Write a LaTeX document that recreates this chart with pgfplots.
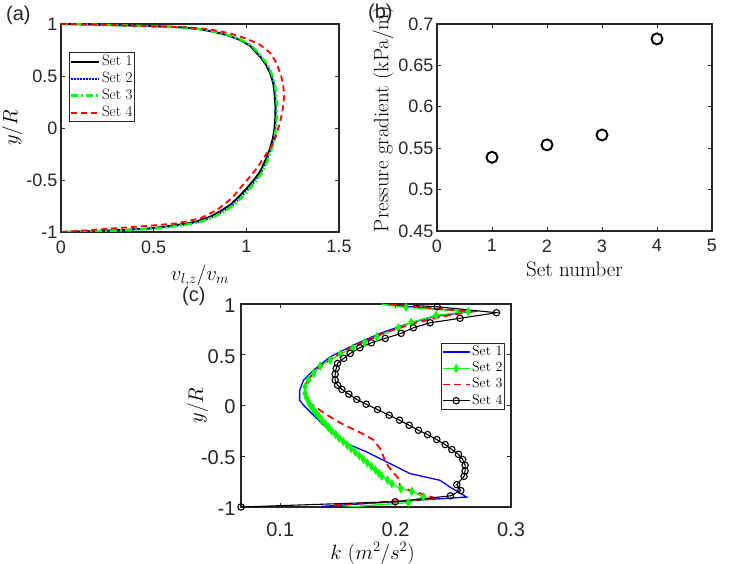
\documentclass[border=0pt]{standalone}
\usepackage{fontspec}
\usepackage{pgfplots}
\pgfplotsset{compat=1.18}
\newfontfamily\hel{Liberation Sans}
\definecolor{axgray}{rgb}{0.15,0.15,0.15}
\pgfplotsset{
  mstyle/.style={
    scale only axis,
    axis line style={axgray, line width=1.1pt},
    every tick/.style={axgray, line width=0.8pt},
    major tick length=4pt,
    tick align=inside,
    /pgf/number format/assume math mode=true,
    tick label style={font=\hel\fontsize{18}{18}\selectfont, text=axgray},
    xticklabel style={yshift=-5pt},
    label style={font=\fontsize{21}{21}\selectfont},
  }
}
\begin{document}
\begin{tikzpicture}
\useasboundingbox (0,0) rectangle (747pt,564pt);
% ---------------- (a)
\begin{axis}[mstyle,
  at={(61pt,332pt)}, anchor=south west,
  width=278pt, height=208pt,
  xmin=0, xmax=1.5, ymin=-1, ymax=1,
  xtick={0,0.5,1,1.5}, ytick={-1,-0.5,0,0.5,1},
  xlabel={$v_{l,z}/v_m$}, ylabel={$y/R$},
  xlabel style={at={(axis description cs:0.5,-0.21)}, anchor=center},
  ylabel style={at={(axis description cs:-0.176,0.5)}, anchor=center},
  legend style={at={(0.029,0.865)}, anchor=north west, draw=axgray, line width=1.1pt,
    font=\fontsize{15}{15}\selectfont, inner sep=0.5pt, row sep=0pt,
    nodes={inner sep=1.5pt, text height=10.5pt, text depth=3.5pt}},
  legend cell align=left,
  legend image code/.code={\draw[#1] (0pt,0pt) -- (28pt,0pt);},
]
\addplot[black, line width=1.8pt] coordinates {(0,1) (0.1,0.997) (0.25,0.991) (0.4,0.984) (0.55,0.976) (0.642,0.968) (0.74,0.952) (0.822,0.926) (0.9,0.89) (0.966,0.846) (1.02,0.79) (1.074,0.686) (1.105,0.61) (1.128,0.526) (1.145,0.43) (1.152,0.333) (1.157,0.2) (1.156,0.1) (1.152,0) (1.143,-0.1) (1.128,-0.195) (1.105,-0.3) (1.074,-0.42) (1.04,-0.5) (1.002,-0.58) (0.96,-0.66) (0.912,-0.74) (0.86,-0.8) (0.804,-0.853) (0.73,-0.9) (0.66,-0.923) (0.57,-0.946) (0.48,-0.965) (0.35,-0.978) (0.2,-0.99) (0.08,-0.997) (0,-1)};
\addlegendentry{Set 1}
\addplot[blue, line width=1.9pt, dash pattern=on 1.3pt off 1.7pt] coordinates {(0,1) (0.1,0.997) (0.25,0.991) (0.4,0.984) (0.55,0.976) (0.645,0.968) (0.745,0.952) (0.826,0.926) (0.905,0.89) (0.97,0.846) (1.025,0.79) (1.078,0.686) (1.11,0.61) (1.132,0.526) (1.149,0.43) (1.156,0.333) (1.161,0.2) (1.16,0.1) (1.157,0) (1.149,-0.1) (1.135,-0.195) (1.113,-0.3) (1.084,-0.42) (1.052,-0.5) (1.015,-0.58) (0.975,-0.66) (0.928,-0.74) (0.878,-0.8) (0.822,-0.853) (0.75,-0.9) (0.68,-0.925) (0.59,-0.948) (0.49,-0.967) (0.36,-0.98) (0.21,-0.991) (0.08,-0.998) (0,-1)};
\addlegendentry{Set 2}
\addplot[green, line width=2.4pt, dash pattern=on 7pt off 3pt on 2pt off 3pt] coordinates {(0,1) (0.1,0.997) (0.25,0.991) (0.4,0.984) (0.55,0.977) (0.648,0.968) (0.75,0.952) (0.83,0.926) (0.91,0.89) (0.975,0.846) (1.03,0.79) (1.082,0.686) (1.114,0.61) (1.136,0.526) (1.153,0.43) (1.16,0.333) (1.165,0.2) (1.164,0.1) (1.16,0) (1.152,-0.1) (1.138,-0.195) (1.117,-0.3) (1.088,-0.42) (1.056,-0.5) (1.02,-0.58) (0.98,-0.66) (0.934,-0.74) (0.884,-0.8) (0.828,-0.853) (0.756,-0.9) (0.686,-0.926) (0.595,-0.95) (0.495,-0.969) (0.36,-0.982) (0.21,-0.992) (0.08,-0.998) (0,-1)};
\addlegendentry{Set 3}
\addplot[red, line width=1.8pt, dash pattern=on 6pt off 4pt] coordinates {(0,1) (0.15,0.995) (0.35,0.986) (0.55,0.976) (0.678,0.968) (0.8,0.95) (0.912,0.91) (1.0,0.86) (1.074,0.8) (1.13,0.72) (1.164,0.62) (1.188,0.5) (1.2,0.4) (1.203,0.3) (1.198,0.2) (1.19,0.12) (1.181,0.05) (1.173,0) (1.16,-0.08) (1.135,-0.18) (1.092,-0.29) (1.06,-0.38) (1.02,-0.468) (0.975,-0.56) (0.93,-0.66) (0.885,-0.73) (0.84,-0.79) (0.75,-0.87) (0.624,-0.917) (0.48,-0.94) (0.3,-0.963) (0.15,-0.983) (0,-1)};
\addlegendentry{Set 4}
\end{axis}
% ---------------- (b)
\begin{axis}[mstyle,
  at={(437pt,333pt)}, anchor=south west,
  width=275pt, height=207pt,
  xmin=0, xmax=5, ymin=0.45, ymax=0.7,
  xtick={0,1,2,3,4,5}, ytick={0.45,0.5,0.55,0.6,0.65,0.7},
  xlabel={Set number}, ylabel={Pressure gradient (kPa/m)},
  xlabel style={at={(axis description cs:0.5,-0.185)}, anchor=center},
  ylabel style={at={(axis description cs:-0.196,0.54)}, anchor=center},
]
\addplot[only marks, mark=o, mark size=5.5pt, black, line width=1.9pt] coordinates {(1,0.539) (2,0.554) (3,0.566) (4,0.682)};
\end{axis}
% ---------------- (c)
\begin{axis}[mstyle,
  at={(241pt,57pt)}, anchor=south west,
  width=270pt, height=203pt,
  xmin=0.066, xmax=0.3, ymin=-1, ymax=1,
  xtick={0.1,0.2,0.3}, ytick={-1,-0.5,0,0.5,1},
  tick label style={font=\hel\fontsize{20}{20}\selectfont, text=axgray},
  xticklabel style={yshift=-7pt},
  yticklabel style={xshift=-2pt, yshift=-1.5pt},
  xlabel={$k\ (m^2/s^2)$}, ylabel={$y/R$},
  xlabel style={at={(axis description cs:0.487,-0.228)}, anchor=center},
  ylabel style={at={(axis description cs:-0.16,0.5)}, anchor=center},
  legend style={at={(0.978,0.808)}, anchor=north east, draw=axgray, line width=1.1pt,
    font=\fontsize{14}{14}\selectfont, inner sep=0.5pt, row sep=0pt,
    nodes={inner sep=1.5pt, text height=10pt, text depth=3.2pt}},
  legend cell align=left,
  legend image code/.code={\draw[#1] (0pt,0pt) -- (13.5pt,0pt) -- (27pt,0pt); \draw[#1, mark repeat=1] plot coordinates {(13.5pt,0pt)};},
]
\addplot[blue, line width=1.3pt] coordinates {(0.19,0.996) (0.264,0.924) (0.2327,0.875) (0.2097,0.803) (0.1866,0.711) (0.1635,0.595) (0.1433,0.48) (0.1289,0.348) (0.1202,0.25) (0.1168,0.151) (0.1168,0.052) (0.1202,0.003) (0.1274,-0.079) (0.1361,-0.178) (0.1462,-0.276) (0.1577,-0.375) (0.175,-0.458) (0.1895,-0.54) (0.2126,-0.671) (0.2385,-0.737) (0.247,-0.803) (0.2544,-0.853) (0.2616,-0.902) (0.136,-0.994)};
\addlegendentry{Set 1}
\addplot[green, line width=1.3pt, forget plot] coordinates {(0.188,0.998) (0.2091,0.967)};
\addplot[green, line width=1.3pt, mark=diamond*, mark size=2.6pt, mark options={solid, fill=green, yscale=1.35}] coordinates {(0.2091,0.967) (0.263,0.926) (0.2351,0.888) (0.2135,0.819) (0.2024,0.766) (0.1837,0.677) (0.173,0.622) (0.1626,0.563) (0.152,0.506) (0.1433,0.447) (0.1346,0.388) (0.1289,0.316) (0.1245,0.25) (0.1216,0.184) (0.1216,0.118) (0.1231,0.069) (0.1245,0.035) (0.126,0.003) (0.1285,-0.035) (0.131,-0.07) (0.1335,-0.105) (0.136,-0.14) (0.139,-0.18) (0.1418,-0.215) (0.1445,-0.25) (0.148,-0.285) (0.151,-0.32) (0.1545,-0.355) (0.158,-0.39) (0.1615,-0.425) (0.165,-0.46) (0.1685,-0.495) (0.172,-0.53) (0.1755,-0.565) (0.179,-0.6) (0.1825,-0.635) (0.1855,-0.668) (0.188,-0.695) (0.193,-0.735) (0.1967,-0.77) (0.2045,-0.82) (0.214,-0.845) (0.224,-0.9) (0.211,-0.957) (0.153,-1.005)};
\addlegendentry{Set 2}
\addplot[red, line width=1.8pt, dash pattern=on 7pt off 4.5pt] coordinates {(0.195,0.995) (0.266,0.924) (0.24,0.876) (0.2155,0.808) (0.19,0.715) (0.167,0.6) (0.147,0.485) (0.132,0.36) (0.1235,0.25) (0.1205,0.15) (0.122,0.07) (0.1274,0.01) (0.14,-0.09) (0.155,-0.19) (0.17,-0.27) (0.181,-0.34) (0.1875,-0.44) (0.19,-0.52) (0.194,-0.606) (0.2025,-0.72) (0.204,-0.80) (0.2126,-0.836) (0.227,-0.886) (0.2357,-0.918) (0.143,-0.985)};
\addlegendentry{Set 3}
\addplot[black, line width=1.1pt, forget plot] coordinates {(0.2154,0.985) (0.236,0.973)};
\addplot[black, line width=1.1pt, mark=o, mark size=3.2pt, mark options={solid}] coordinates {(0.236,0.973) (0.2874,0.914) (0.2558,0.859) (0.2299,0.815) (0.2154,0.766) (0.2048,0.711) (0.191,0.661) (0.179,0.618) (0.169,0.569) (0.1606,0.513) (0.155,0.464) (0.1497,0.414) (0.1485,0.365) (0.1476,0.309) (0.1476,0.25) (0.1497,0.2) (0.1535,0.158) (0.1595,0.112) (0.1664,0.059) (0.1745,0.013) (0.1843,-0.04) (0.1944,-0.096) (0.2034,-0.145) (0.2117,-0.195) (0.2198,-0.244) (0.2277,-0.287) (0.2357,-0.336) (0.2429,-0.385) (0.2487,-0.434) (0.2544,-0.481) (0.2582,-0.533) (0.2602,-0.589) (0.2602,-0.646) (0.2593,-0.698) (0.253,-0.78) (0.2565,-0.838) (0.2475,-0.89) (0.1996,-0.948) (0.066,-1.0)};
\addlegendentry{Set 4}
\end{axis}
\node[anchor=north west, inner sep=0pt, font=\hel\fontsize{20}{20}\selectfont, text=axgray] at (6pt,558pt) {(a)};
\node[anchor=north west, inner sep=0pt, font=\hel\fontsize{20}{20}\selectfont, text=axgray] at (368pt,560pt) {(b)};
\node[anchor=north west, inner sep=0pt, font=\hel\fontsize{20}{20}\selectfont, text=axgray] at (182pt,277pt) {(c)};
\end{tikzpicture}
\end{document}
